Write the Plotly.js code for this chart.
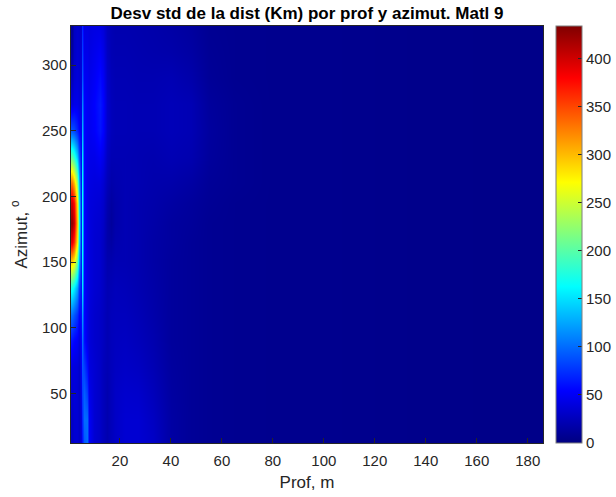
<!DOCTYPE html>
<html>
<head>
<meta charset="utf-8">
<script src="https://cdn.plot.ly/plotly-3.0.1.min.js"></script>
<style>html,body{margin:0;padding:0;background:#fff;}#chart{width:616px;height:497px;}</style>
</head>
<body>
<div id="chart"></div>
<script>
// Depth (m) sample columns
var depths = [1, 2, 3, 4, 4.7, 5.3, 6, 7, 8, 10, 12, 13.5, 15, 16.5, 18, 22, 27, 33, 40, 48, 55, 65, 80, 100, 130, 160, 186];
// Azimuth (deg) sample rows
var azimuths = [12, 30, 50, 70, 90, 110, 130, 150, 165, 180, 195, 210, 230, 250, 270, 290, 310, 330];
// Std dev of distance (Km), one row per azimuth
var row012 = [30,35,35,30,40,60,90,100,50,35,30,25,20,25,30,35,35,30,15,10,8,7,6,6,5,4,4];
var row030 = [30,35,35,30,40,70,100,100,50,35,30,25,20,25,30,35,35,28,15,10,8,7,6,6,5,4,4];
var row050 = [35,38,35,30,45,80,95,80,45,35,30,25,20,25,30,33,32,25,14,10,8,7,6,6,5,4,4];
var row070 = [40,40,38,32,50,90,80,60,40,35,30,25,22,25,28,30,28,22,13,10,8,7,6,6,5,4,4];
var row090 = [60,55,50,40,55,100,60,45,38,33,30,27,22,25,27,28,25,20,12,10,8,7,6,6,5,4,4];
var row110 = [100,90,75,55,60,120,55,45,38,33,30,27,22,25,26,26,23,18,12,10,8,7,6,6,5,4,4];
var row130 = [170,155,125,80,60,150,55,45,40,35,32,28,22,23,25,24,21,17,12,10,8,7,6,6,5,4,4];
var row150 = [290,270,210,120,65,160,55,45,40,35,33,28,20,20,22,22,20,16,12,10,8,7,6,6,5,4,4];
var row165 = [390,360,280,150,65,165,55,45,40,35,33,28,18,15,20,22,20,16,13,10,8,7,6,6,5,4,4];
var row180 = [425,400,300,160,65,165,55,45,40,36,34,30,18,12,18,22,20,17,13,11,8,7,6,6,5,4,4];
var row195 = [400,375,285,150,65,165,55,45,40,38,36,32,20,14,18,22,20,18,15,12,9,7,6,6,5,4,4];
var row210 = [330,300,230,130,60,160,55,45,42,40,40,35,24,18,20,22,21,19,18,15,10,8,6,6,5,4,4];
var row230 = [200,180,140,90,55,150,55,48,45,45,50,44,28,22,22,22,21,20,22,20,12,8,6,6,5,4,4];
var row250 = [90,85,70,55,50,130,55,50,48,52,62,54,32,25,23,23,22,22,24,22,13,8,6,6,5,4,4];
var row270 = [40,45,45,40,45,110,55,50,48,54,64,55,32,25,23,23,22,22,24,22,12,8,6,6,5,4,4];
var row290 = [25,35,38,35,40,90,50,48,45,50,58,50,30,24,22,22,21,21,22,18,10,7,6,6,5,4,4];
var row310 = [15,30,35,33,38,80,45,45,42,46,50,44,28,22,21,21,20,19,18,15,9,7,6,6,5,4,4];
var row330 = [10,28,32,30,35,70,42,42,40,42,42,38,26,22,20,20,19,18,16,13,8,7,6,6,5,4,4];
var zRows = [row012,row030,row050,row070,row090,row110,row130,row150,row165,row180,row195,row210,row230,row250,row270,row290,row310,row330];
var cbTicks = [0, 50, 100, 150, 200, 250, 300, 350, 400];
var xTicks = [20, 40, 60, 80, 100, 120, 140, 160, 180];
var yTicks = [50, 100, 150, 200, 250, 300];

var jet = [
  [0, 'rgb(0,0,128)'], [0.125, 'rgb(0,0,255)'], [0.375, 'rgb(0,255,255)'],
  [0.625, 'rgb(255,255,0)'], [0.875, 'rgb(255,0,0)'], [1, 'rgb(128,0,0)']
];
var fontFam = '"Liberation Sans", Arial, Helvetica, sans-serif';
var ink = '#262626';

var trace = {
  type: 'heatmap', x: depths, y: azimuths, z: zRows,
  colorscale: jet, zmin: 0, zmax: 434, zsmooth: 'best',
  hoverinfo: 'none',
  colorbar: {
    x: 1.0275, xanchor: 'left', xpad: 0, y: 0.5, yanchor: 'middle', ypad: 0,
    len: 1, lenmode: 'fraction', thickness: 26, thicknessmode: 'pixels',
    outlinecolor: '#7f7f7f', outlinewidth: 1,
    tickvals: cbTicks, ticks: 'inside', ticklen: 4, tickcolor: ink,
    tickfont: {family: fontFam, size: 15, color: ink}
  }
};

var layout = {
  width: 616, height: 497,
  margin: {l: 71, r: 73, t: 26, b: 54, pad: 0, autoexpand: false},
  paper_bgcolor: '#ffffff', plot_bgcolor: '#ffffff',
  font: {family: fontFam, color: ink},
  title: {text: '<b>Desv std de la dist (Km) por prof y azimut. Matl 9</b>',
          font: {family: fontFam, size: 17, color: '#000000'},
          x: 0.5, xref: 'paper', xanchor: 'center', y: 0.973, yref: 'container', yanchor: 'middle'},
  xaxis: {
    range: [0.8, 186], tickvals: xTicks, ticks: 'inside', ticklen: 5, tickcolor: ink,
    showline: true, linecolor: ink, linewidth: 1, mirror: true,
    showgrid: true, gridcolor: 'rgba(0,0,0,0.12)', gridwidth: 1, zeroline: false,
    layer: 'above traces', ticklabelstandoff: 4,
    tickfont: {family: fontFam, size: 15, color: ink},
    title: {text: 'Prof, m', font: {family: fontFam, size: 17, color: ink}, standoff: 8}
  },
  yaxis: {
    range: [12.4, 329.7], tickvals: yTicks, ticks: 'inside', ticklen: 5, tickcolor: ink,
    showline: true, linecolor: ink, linewidth: 1, mirror: true,
    showgrid: true, gridcolor: 'rgba(0,0,0,0.12)', gridwidth: 1, zeroline: false,
    layer: 'above traces',
    tickfont: {family: fontFam, size: 15, color: ink},
    title: {text: 'Azimut, <sup>o</sup>', font: {family: fontFam, size: 17, color: ink}, standoff: 10}
  }
};

Plotly.newPlot('chart', [trace], layout, {displayModeBar: false, staticPlot: true});
</script>
</body>
</html>
